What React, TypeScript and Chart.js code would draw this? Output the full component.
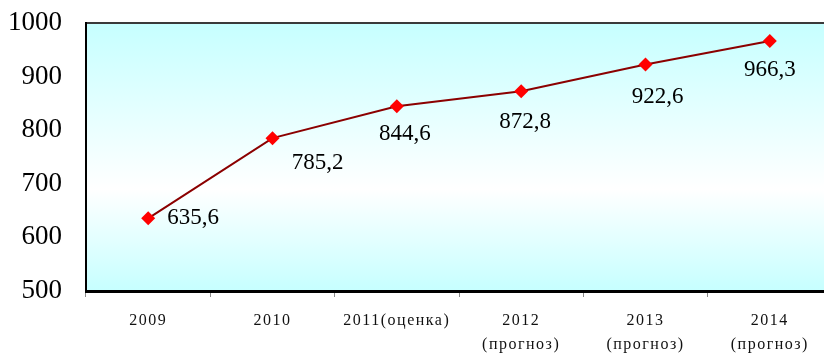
import React, { useEffect, useRef } from "react";
import { Chart, registerables } from "chart.js";

Chart.register(...registerables);

const categories: (string | string[])[] = [
  "2009",
  "2010",
  "2011(оценка)",
  ["2012", "(прогноз)"],
  ["2013", "(прогноз)"],
  ["2014", "(прогноз)"],
];
const values = [635.6, 785.2, 844.6, 872.8, 922.6, 966.3];
const yMin = 500;
const yMax = 1000;
const yStep = 100;

// label placement (style), offset of label centre from its point
const labelOffsets: [number, number][] = [
  [45, 0],
  [45, 25],
  [8, 28],
  [4, 31],
  [12, 32],
  [0, 29],
];

const SERIF = "'Liberation Serif', 'Times New Roman', serif";

const deco = {
  id: "deco",
  beforeDraw(chart: any) {
    const { ctx, chartArea: a } = chart;
    const g = ctx.createLinearGradient(0, a.top, 0, a.bottom);
    g.addColorStop(0, "#c6ffff");
    g.addColorStop(0.62, "#ffffff");
    g.addColorStop(1, "#c6ffff");
    ctx.save();
    ctx.fillStyle = g;
    ctx.fillRect(a.left, a.top, a.right - a.left, a.bottom - a.top);
    ctx.strokeStyle = "#3a3a3a";
    ctx.lineWidth = 2;
    ctx.beginPath();
    ctx.moveTo(a.left, a.top);
    ctx.lineTo(a.right, a.top);
    ctx.stroke();
    ctx.restore();
  },
  afterDatasetsDraw(chart: any) {
    const { ctx } = chart;
    const meta = chart.getDatasetMeta(0);
    ctx.save();
    ctx.font = `23px ${SERIF}`;
    ctx.fillStyle = "#000";
    ctx.textAlign = "center";
    ctx.textBaseline = "middle";
    meta.data.forEach((pt: any, i: number) => {
      const v = values[i];
      const txt = v.toFixed(1).replace(".", ",");
      const [dx, dy] = labelOffsets[i];
      ctx.fillText(txt, pt.x + dx, pt.y + dy);
    });
    ctx.restore();
    (ctx as any).letterSpacing = "1.5px";
  },
  afterDraw(chart: any) {
    (chart.ctx as any).letterSpacing = "0px";
  },
};

export default function App() {
  const ref = useRef<HTMLCanvasElement>(null);
  useEffect(() => {
    if (!ref.current) return;
    const chart = new Chart(ref.current, {
      type: "line",
      data: {
        labels: categories,
        datasets: [
          {
            data: values,
            borderColor: "#8b0000",
            borderWidth: 2,
            pointStyle: "rectRot",
            pointRadius: 7,
            pointBackgroundColor: "#ff0000",
            pointBorderColor: "#ff0000",
            pointBorderWidth: 0,
            tension: 0,
          },
        ],
      },
      options: {
        animation: false,
        responsive: false,
        devicePixelRatio: 1,
        layout: { padding: { left: 0, top: 23, right: 8, bottom: 0 } },
        plugins: {
          legend: { display: false },
          tooltip: { enabled: false },
        },
        scales: {
          x: {
            offset: true,
            grid: {
              offset: true,
              drawOnChartArea: false,
              drawTicks: true,
              tickLength: 6,
              color: "#888888",
              lineWidth: 1,
            },
            border: { display: true, color: "#000000", width: 3 },
            ticks: {
              z: 1,
              color: "#111111",
              padding: 12,
              maxRotation: 0,
              autoSkip: false,
              font: { family: SERIF, size: 16, lineHeight: "24px" },
            },
            afterFit(scale: any) {
              scale.height = 64;
            },
          },
          y: {
            min: yMin,
            max: yMax,
            grid: { display: false, drawTicks: false },
            border: { display: true, color: "#000000", width: 2 },
            ticks: {
              stepSize: yStep,
              color: "#000000",
              padding: 24,
              font: { family: SERIF, size: 27 },
              callback: (v: any) => String(v),
            },
            afterFit(scale: any) {
              scale.width = 86;
              scale.paddingTop = 16;
              scale.paddingBottom = 16;
            },
          },
        },
      },
      plugins: [deco],
    });
    return () => chart.destroy();
  }, []);
  return (
    <div
      style={{
        position: "fixed",
        left: 0,
        top: 0,
        width: 824,
        height: 355,
        overflow: "hidden",
        background: "#ffffff",
      }}
    >
      <canvas ref={ref} width={840} height={355} style={{ width: 840, height: 355, display: "block" }} />
    </div>
  );
}
